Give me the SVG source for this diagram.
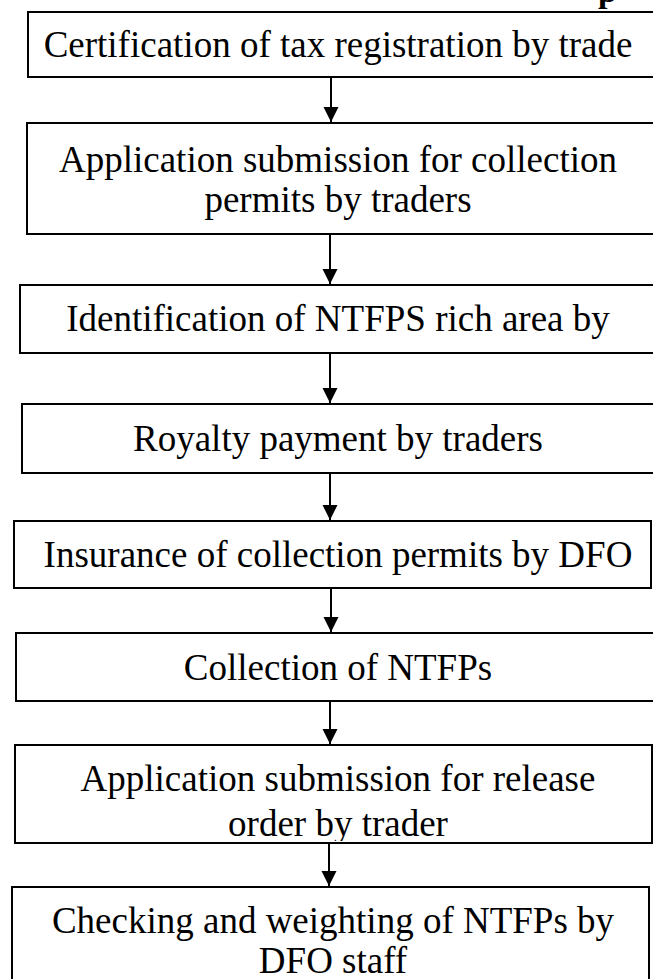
<svg xmlns="http://www.w3.org/2000/svg" width="653" height="979" viewBox="0 0 653 979">
<style>
.box{fill:#fff;stroke:#000;stroke-width:2}
.t{font-family:"Liberation Serif","Times New Roman",serif;font-size:37px;fill:#000;text-anchor:middle}
.ttl{font-family:"Liberation Serif","Times New Roman",serif;font-size:34px;font-weight:bold;fill:#000}
.c{stroke:#000;stroke-width:2;fill:none}
</style>
<defs>
<marker id="ah" markerUnits="userSpaceOnUse" markerWidth="16" markerHeight="16" viewBox="0 0 16 16" refX="15" refY="7.5" orient="auto">
<path d="M0,0 L15,7.5 L0,15 z" fill="#000"/>
</marker>
<clipPath id="clip7"><rect x="15" y="745" width="640" height="96"/></clipPath>
</defs>
<text class="ttl" x="598" y="2">p</text>
<g id="connectors">
<line class="c" x1="331" y1="77" x2="331" y2="122" marker-end="url(#ah)"/>
<line class="c" x1="330" y1="234" x2="330" y2="284" marker-end="url(#ah)"/>
<line class="c" x1="330" y1="353" x2="330" y2="403" marker-end="url(#ah)"/>
<line class="c" x1="330" y1="473" x2="330" y2="520" marker-end="url(#ah)"/>
<line class="c" x1="331" y1="588" x2="331" y2="632" marker-end="url(#ah)"/>
<line class="c" x1="330" y1="701" x2="330" y2="744" marker-end="url(#ah)"/>
<line class="c" x1="329" y1="843" x2="329" y2="886" marker-end="url(#ah)"/>
</g>
<g id="n1"><rect class="box" x="28" y="12" width="640" height="65"/><text class="t" x="338" y="57">Certification of tax registration by trade</text></g>
<g id="n2"><rect class="box" x="27" y="123" width="640" height="111"/><text class="t" x="338" y="172">Application submission for collection</text><text class="t" x="338" y="212">permits by traders</text></g>
<g id="n3"><rect class="box" x="20" y="285" width="640" height="68"/><text class="t" x="338" y="331">Identification of NTFPS rich area by</text></g>
<g id="n4"><rect class="box" x="22" y="404" width="640" height="69"/><text class="t" x="338" y="451">Royalty payment by traders</text></g>
<g id="n5"><rect class="box" x="14" y="521" width="637" height="67"/><text class="t" x="338" y="567">Insurance of collection permits by DFO</text></g>
<g id="n6"><rect class="box" x="16" y="633" width="640" height="68"/><text class="t" x="338" y="680">Collection of NTFPs</text></g>
<g id="n7"><rect class="box" x="15" y="745" width="637" height="98"/><g clip-path="url(#clip7)"><text class="t" x="338" y="791">Application submission for release</text><text class="t" x="338" y="836">order by trader</text></g></g>
<g id="n8"><rect class="box" x="12" y="887" width="637" height="100"/><text class="t" x="333" y="933">Checking and weighting of NTFPs by</text><text class="t" x="333" y="973">DFO staff</text></g>
</svg>
